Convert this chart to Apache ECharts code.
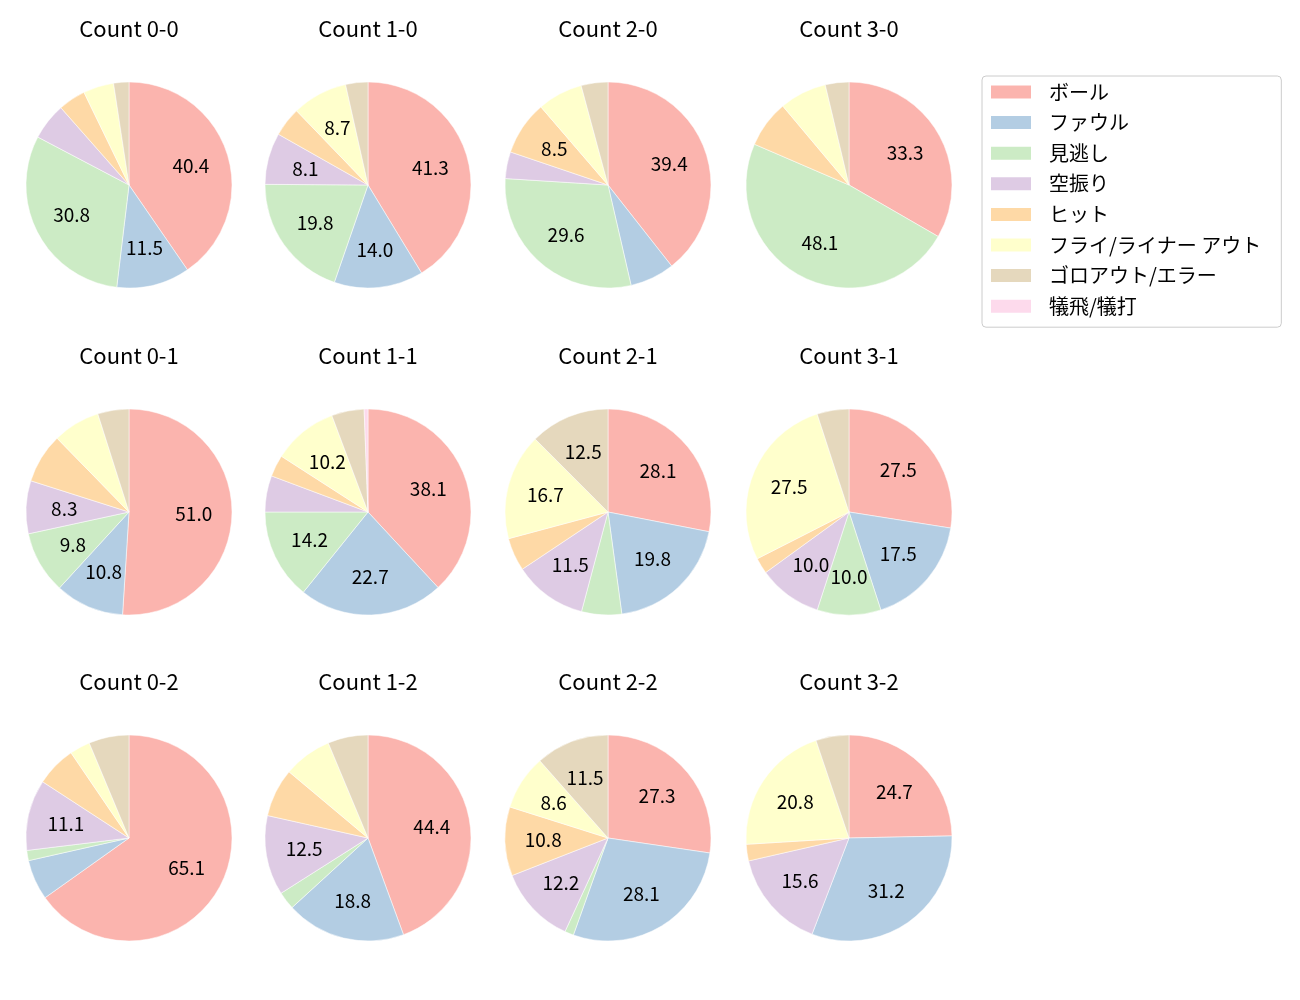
<!DOCTYPE html>
<html>
<head>
<meta charset="utf-8">
<title>Count pies</title>
<script src="https://cdn.jsdelivr.net/npm/echarts@6/dist/echarts.min.js"></script>
<style>
  html, body { margin: 0; padding: 0; background: #fff; }
  #chart { width: 1300px; height: 1000px; }
</style>
</head>
<body>
<div id="chart"></div>
<script>
// categories and pastel colours
const categories = ['ボール', 'ファウル', '見逃し', '空振り', 'ヒット', 'フライ/ライナー アウト', 'ゴロアウト/エラー', '犠飛/犠打']
const colors = ['#fbb4ae', '#b3cde3', '#ccebc5', '#decbe4', '#fed9a6', '#ffffcc', '#e5d8bd', '#fddaec']

// share (%) per count, in category order
const c00 = [40.4, 11.5, 30.8, 5.8, 4.3, 4.8, 2.4, 0]
const c10 = [41.3, 14.0, 19.8, 8.1, 4.6, 8.7, 3.5, 0]
const c20 = [39.4, 7.0, 29.6, 4.2, 8.5, 7.1, 4.2, 0]
const c30 = [33.3, 0, 48.1, 0, 7.4, 7.4, 3.7, 0]
const c01 = [51.0, 10.8, 9.8, 8.3, 7.8, 7.4, 4.9, 0]
const c11 = [38.1, 22.7, 14.2, 5.7, 3.4, 10.2, 5.1, 0.6]
const c21 = [28.1, 19.8, 6.3, 11.5, 5.2, 16.7, 12.5, 0]
const c31 = [27.5, 17.5, 10.0, 10.0, 2.5, 27.5, 5.0, 0]
const c02 = [65.1, 6.3, 1.6, 11.1, 6.3, 3.2, 6.3, 0]
const c12 = [44.4, 18.8, 2.8, 12.5, 7.6, 7.6, 6.3, 0]
const c22 = [27.3, 28.1, 1.4, 12.2, 10.8, 8.6, 11.5, 0]
const c32 = [24.7, 31.2, 0, 15.6, 2.6, 20.8, 5.2, 0]

const titles = ['Count 0-0', 'Count 1-0', 'Count 2-0', 'Count 3-0',
  'Count 0-1', 'Count 1-1', 'Count 2-1', 'Count 3-1',
  'Count 0-2', 'Count 1-2', 'Count 2-2', 'Count 3-2']
const shares = [c00, c10, c20, c30, c01, c11, c21, c31, c02, c12, c22, c32]

const font = 'Noto Sans CJK JP'
const colX = [129, 368, 608, 849]
const rowY = [185, 512, 838]
const R = 103

const chart = echarts.init(document.getElementById('chart'), null, { renderer: 'canvas' })

const title = []
const series = []
shares.forEach((vals, i) => {
  const cx = colX[i % 4]
  const cy = rowY[Math.floor(i / 4)]
  const data = []
  vals.forEach((v, k) => {
    if (v > 0) data.push({ name: categories[k], value: v, itemStyle: { color: colors[k] } })
  })
  title.push({
    text: titles[i],
    left: cx,
    top: cy - R - 64,
    textAlign: 'center',
    padding: 0,
    textStyle: { fontFamily: font, fontSize: 22, fontWeight: 'normal', color: '#000' }
  })
  // the slices
  series.push({
    type: 'pie',
    center: [cx, cy],
    radius: [0, R],
    startAngle: 90,
    clockwise: true,
    silent: true,
    animation: false,
    label: { show: false },
    labelLine: { show: false },
    itemStyle: { borderColor: '#fff', borderWidth: 0.5 },
    data: data
  })
  // transparent ring only to put the labels at 0.6 of the radius
  series.push({
    type: 'pie',
    center: [cx, cy],
    radius: [R * 0.2, R],
    startAngle: 90,
    clockwise: true,
    silent: true,
    animation: false,
    avoidLabelOverlap: false,
    itemStyle: { color: 'rgba(0,0,0,0)' },
    label: {
      show: true,
      position: 'inside',
      fontFamily: font,
      fontSize: 19,
      color: '#000',
      formatter: p => (p.value >= 8 ? p.value.toFixed(1) : '')
    },
    labelLine: { show: false },
    data: data.map(d => ({ name: d.name, value: d.value }))
  })
})

chart.setOption({
  animation: false,
  title: title,
  legend: {
    orient: 'vertical',
    left: 982,
    top: 76,
    padding: [6, 20, 11, 7],
    borderColor: '#cccccc',
    borderWidth: 1,
    borderRadius: 4,
    itemWidth: 42,
    itemHeight: 15,
    itemGap: 10.6,
    icon: 'rect',
    selectedMode: false,
    textStyle: { fontFamily: font, fontSize: 20, color: '#000', padding: [0, 0, 0, 12] },
    data: categories.map((c, k) => ({ name: c, itemStyle: { color: colors[k] } }))
  },
  series: series
})
</script>
</body>
</html>
